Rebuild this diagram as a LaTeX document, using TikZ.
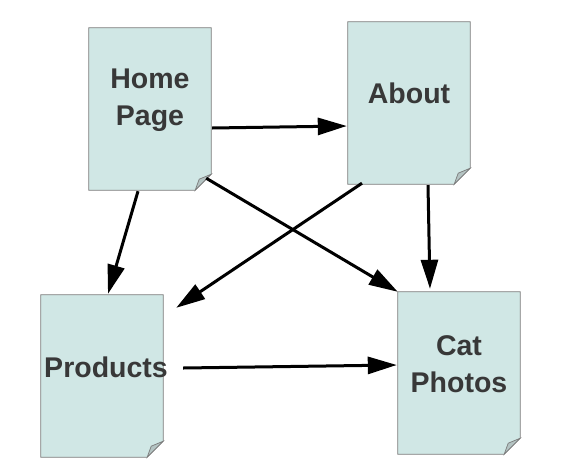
\documentclass[tikz,border=0pt]{standalone}
\usepackage{fontspec}
\setmainfont{Liberation Sans}
\usetikzlibrary{positioning,arrows.meta,calc}

\definecolor{pagefill}{HTML}{D0E7E5}
\definecolor{pageline}{HTML}{7A7A7A}
\definecolor{foldfill}{HTML}{B4C4C3}
\definecolor{labeltext}{HTML}{383838}

\tikzset{
  docpage/.style={minimum width=122pt, minimum height=162pt, inner sep=0pt},
  doclabel/.style={font=\fontsize{28.5}{37}\selectfont\bfseries, text=labeltext, align=center},
  link/.style={line width=3pt, -{Triangle[length=29pt,width=17pt]}},
}

% page outline with folded corner
\newcommand{\drawpage}[1]{%
  \draw[pageline, fill=pagefill, line width=0.7pt]
    (#1.north west) -- (#1.north east) -- ($(#1.south east)+(0,-16)$)
    -- ($(#1.south east)+(-16,0)$) -- (#1.south west) -- cycle;
  \draw[pageline, fill=foldfill, line width=0.7pt]
    ($(#1.south east)+(0,-16)$) -- ($(#1.south east)+(-12,-11)$)
    -- ($(#1.south east)+(-16,0)$) -- cycle;
}

\begin{document}
\begin{tikzpicture}[x=1pt, y=-1pt]
  \useasboundingbox (0,0) rectangle (564,474);
  % pages
  \node[docpage] (home) at (150,109) {};
  \node[docpage] (about) at (409,103) {};
  \node[docpage] (products) at (102,376) {};
  \node[docpage] (cat) at (459,373) {};
  \foreach \p in {home,about,products,cat}
    \drawpage{\p};
  % labels
  \node[doclabel] (homelabel) at ($(home.center)+(0,-9)$) {Home\\Page};
  \node[doclabel] (aboutlabel) at ($(about.center)+(0,-10)$) {About};
  \node[doclabel] (productslabel) at ($(products.center)+(4,-9)$) {Products};
  \node[doclabel] (catlabel) at ($(cat.center)+(0,-9)$) {Cat\\Photos};
  % links
  \draw[link] ($(home.east)+(1,19)$) -- ($(about.west)+(-1,23)$);
  \draw[link] ($(home.south)+(-12,1)$) -- ($(products.north)+(6,-1)$);
  \draw[link] ($(home.south east)+(-5,-12)$) -- (cat.north west);
  \draw[link] ($(about.south)+(-47,-1)$) -- ($(products.north east)+(13,13)$);
  \draw[link] ($(about.south)+(19,1)$) -- ($(cat.north)+(-29,-3)$);
  \draw[link] ($(products.east)+(20,-8)$) -- ($(cat.west)+(-1,-8)$);
\end{tikzpicture}
\end{document}
